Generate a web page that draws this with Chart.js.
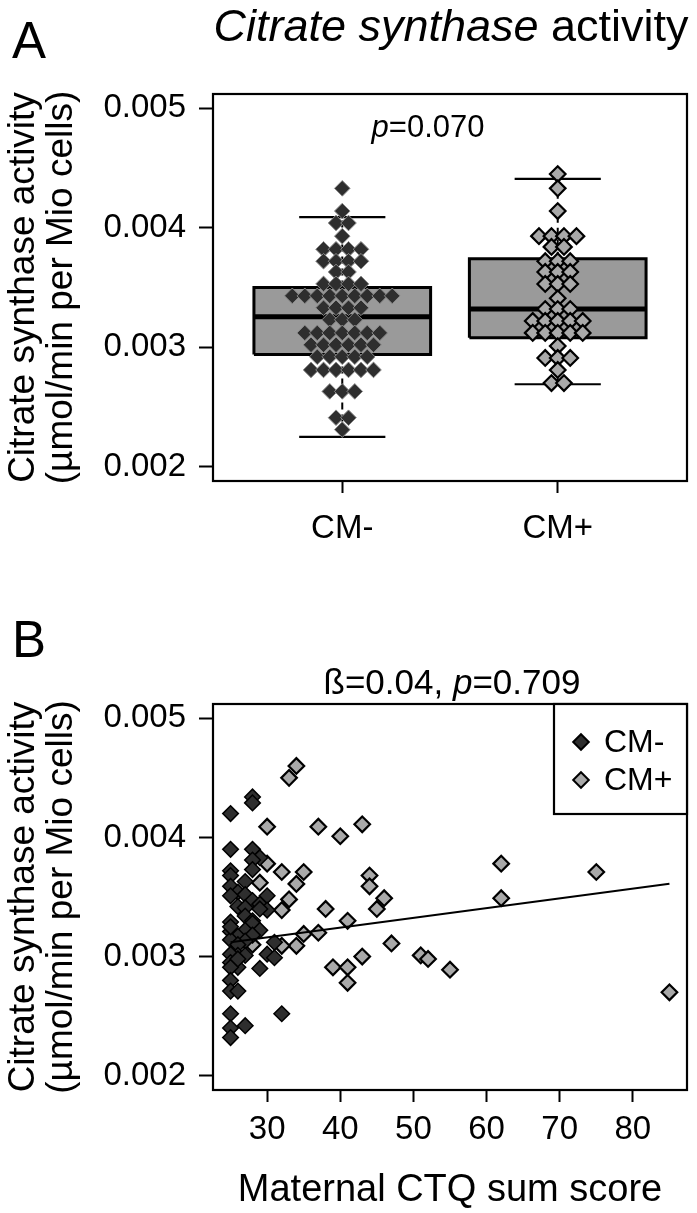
<!DOCTYPE html>
<html>
<head>
<meta charset="utf-8">
<script src="https://cdn.jsdelivr.net/npm/chart.js@4.4.1/dist/chart.umd.min.js"></script>
<style>
  html, body { margin: 0; padding: 0; background: #fff; }
  body { width: 697px; height: 1213px; position: relative; overflow: hidden;
         font-family: "Liberation Sans", Arial, sans-serif; color: #000; }
  .wrap { position: absolute; left: 0; width: 697px; }
  #wa { top: 0; height: 600px; }
  #wb { top: 600px; height: 613px; }
  canvas { display: block; }
  .lbl { position: absolute; white-space: nowrap; line-height: 1; transform: translate(-50%, -50%); }
</style>
</head>
<body>
<div class="wrap" id="wa"><canvas id="ca" width="697" height="600"></canvas></div>
<div class="wrap" id="wb"><canvas id="cb" width="697" height="613"></canvas></div>
<div class="lbl" style="left:29px; top:40px; font-size:51px;">A</div>
<div class="lbl" style="left:451px; top:25px; font-size:45px;"><i>Citrate synthase</i> activity</div>
<div class="lbl" style="left:428px; top:126px; font-size:31px;"><i>p</i>=0.070</div>
<div class="lbl" style="left:29px; top:639px; font-size:51px;">B</div>
<div class="lbl" style="left:452px; top:681px; font-size:35px;">ß=0.04, <i>p</i>=0.709</div>

<script>
// ---------------- data ----------------
const yTickValues = [0.002, 0.003, 0.004, 0.005];
const yAxisRange = [0.00188, 0.00512];

// Panel A: box plot by group
const groupLabels = ['CM-', 'CM+'];
const groupPositions = [1, 2];
const whiskerLow = [0.00225, 0.00269];
const quartile1 = [0.00294, 0.00308];
const medians = [0.003255, 0.00332];
const quartile3 = [0.00350, 0.00374];
const whiskerHigh = [0.00409, 0.00441];

// Panel A: beeswarm values (binned rows as drawn)
const swarmCMminus = [
  0.00433,
  0.00414,
  0.00404, 0.00404,
  0.00393,
  0.00382, 0.00382, 0.00382, 0.00382,
  0.00372, 0.00372, 0.00372, 0.00372,
  0.00363, 0.00363,
  0.00353, 0.00353, 0.00353, 0.00353,
  0.00343, 0.00343, 0.00343, 0.00343, 0.00343, 0.00343, 0.00343, 0.00343, 0.00343,
  0.00333, 0.00333, 0.00333, 0.00333,
  0.00323, 0.00323, 0.00323,
  0.00312, 0.00312, 0.00312, 0.00312, 0.00312, 0.00312, 0.00312,
  0.00302, 0.00302, 0.00302, 0.00302, 0.00302, 0.00302,
  0.00292, 0.00292, 0.00292, 0.00292, 0.00292,
  0.00281, 0.00281, 0.00281, 0.00281, 0.00281, 0.00281,
  0.00263, 0.00263, 0.00263,
  0.00241, 0.00241,
  0.00231
];
const swarmCMplus = [
  0.00445,
  0.00433,
  0.00414,
  0.00393, 0.00393, 0.00393, 0.00393,
  0.00384, 0.00384,
  0.00372, 0.00372, 0.00372,
  0.00363, 0.00363, 0.00363,
  0.00353, 0.00353, 0.00353,
  0.00341,
  0.00332, 0.00332, 0.00332,
  0.00322, 0.00322, 0.00322, 0.00322, 0.00322,
  0.00312, 0.00312, 0.00312, 0.00312, 0.00312,
  0.00301,
  0.00291, 0.00291, 0.00291,
  0.00281,
  0.00270, 0.00270
];

// Panel B: scatter (CTQ score vs. citrate synthase activity)
const ctqCMminus = [25, 28, 28, 25, 28, 29, 28, 28, 25, 25,
                    27, 25, 26, 25, 27, 30, 28, 29, 30, 26,
                    27, 29, 27, 28, 25, 28, 25, 27, 29, 26,
                    28, 25, 27, 31, 26, 26, 25, 30, 27, 31,
                    25, 26, 25, 29, 25, 25, 26, 25, 32, 27,
                    25, 25, 26, 25];
const csCMminus  = [0.00420, 0.00434, 0.00429, 0.00390, 0.00390, 0.00383, 0.00381, 0.00373, 0.00372, 0.00368,
                    0.00363, 0.00359, 0.00354, 0.00351, 0.00352, 0.00351, 0.00347, 0.00344, 0.00339, 0.00342,
                    0.00341, 0.00340, 0.00334, 0.00330, 0.00329, 0.00328, 0.00321, 0.00322, 0.00322, 0.00317,
                    0.00318, 0.00314, 0.00313, 0.00312, 0.00310, 0.00301, 0.00302, 0.00302, 0.00301, 0.00299,
                    0.00295, 0.00291, 0.00291, 0.00290, 0.00280, 0.00271, 0.00271, 0.00252, 0.00252, 0.00242,
                    0.00240, 0.00232, 0.00298, 0.00325];
const ctqCMplus = [34, 33, 30, 37, 40, 43, 30, 32, 35, 34,
                   29, 33, 32, 38, 35, 37, 41, 44, 44, 46,
                   45, 47, 51, 52, 55, 39, 41, 41, 43, 34,
                   62, 62, 75, 85, 32, 28];
const csCMplus  = [0.00460, 0.00450, 0.00409, 0.00409, 0.00401, 0.00411, 0.00378, 0.00371, 0.00371, 0.00361,
                   0.00362, 0.00348, 0.00339, 0.00340, 0.00319, 0.00320, 0.00330, 0.00368, 0.00359, 0.00349,
                   0.00340, 0.00311, 0.00301, 0.00298, 0.00289, 0.00291, 0.00291, 0.00278, 0.00300, 0.00309,
                   0.00378, 0.00349, 0.00371, 0.00270, 0.00309, 0.00310];
const xTickValuesB = [30, 40, 50, 60, 70, 80];
const xRangeB = [22.6, 87.4];
const fitIntercept = 0.002915;   // regression line
const fitSlope = 0.0000082;

// ---------------- styles ----------------
const FONT = '"Liberation Sans", Arial, Helvetica, sans-serif';
const DARK = '#2e2e2e';
const LIGHT = '#a9a9a9';
const BOXFILL = '#9a9a9a';
const halfBox = 0.41, halfStaple = 0.2, swarmStep = 0.058;

Chart.defaults.font.family = FONT;
Chart.defaults.color = '#000';

function swarmLayout(values, center) {
  const counts = {};
  values.forEach(v => { counts[v] = (counts[v] || 0) + 1; });
  const seen = {};
  return values.map(v => {
    const n = counts[v];
    const i = seen[v] = (seen[v] === undefined ? 0 : seen[v] + 1);
    return { x: center + (i - (n - 1) / 2) * swarmStep, y: v };
  });
}

const frameBox = {
  id: 'frameBox',
  afterDraw(chart) {
    const { ctx, chartArea: a } = chart;
    ctx.save();
    ctx.strokeStyle = '#000';
    ctx.lineWidth = 2.2;
    ctx.strokeRect(a.left, a.top, a.right - a.left, a.bottom - a.top);
    ctx.restore();
  }
};

function yAxisOptions() {
  return {
    type: 'linear',
    min: yAxisRange[0], max: yAxisRange[1],
    afterBuildTicks: s => { s.ticks = yTickValues.map(v => ({ value: v })); },
    afterFit: s => { s.width = 213; },
    ticks: { callback: v => Number(v).toFixed(3), font: { family: FONT, size: 33 }, color: '#000', padding: 13 },
    grid: { display: true, drawOnChartArea: false, drawTicks: true, tickLength: 14, tickWidth: 2, tickColor: '#000', color: '#000' },
    border: { display: false },
    title: { display: true, text: ['Citrate synthase activity', '(µmol/min per Mio cells)'],
             font: { family: FONT, size: 37, lineHeight: 1.02 }, color: '#000', padding: { top: 5, bottom: 0 } }
  };
}

// ---------------- Panel A ----------------
const dsA = [];
groupPositions.forEach((p, g) => {
  dsA.push({ type: 'line', data: [{ x: p - halfBox, y: quartile3[g] }, { x: p + halfBox, y: quartile3[g] }],
             borderWidth: 0, pointRadius: 0, fill: '+1', backgroundColor: BOXFILL, order: 6 });
  dsA.push({ type: 'line', data: [{ x: p - halfBox, y: quartile1[g] }, { x: p + halfBox, y: quartile1[g] }],
             borderWidth: 0, pointRadius: 0, fill: false, order: 6 });
  dsA.push({ type: 'line', data: [
               { x: p - halfBox, y: quartile1[g] }, { x: p + halfBox, y: quartile1[g] },
               { x: p + halfBox, y: quartile3[g] }, { x: p - halfBox, y: quartile3[g] },
               { x: p - halfBox, y: quartile1[g] }],
             borderColor: '#000', borderWidth: 3, pointRadius: 0, fill: false, order: 3 });
  dsA.push({ type: 'line', data: [{ x: p - halfBox, y: medians[g] }, { x: p + halfBox, y: medians[g] }],
             borderColor: '#000', borderWidth: 5, pointRadius: 0, fill: false, order: 3 });
  dsA.push({ type: 'line', data: [{ x: p, y: quartile3[g] }, { x: p, y: whiskerHigh[g] }],
             borderColor: '#000', borderWidth: 2, borderDash: [7, 5], pointRadius: 0, fill: false, order: 4 });
  dsA.push({ type: 'line', data: [{ x: p, y: quartile1[g] }, { x: p, y: whiskerLow[g] }],
             borderColor: '#000', borderWidth: 2, borderDash: [7, 5], pointRadius: 0, fill: false, order: 4 });
  dsA.push({ type: 'line', data: [{ x: p - halfStaple, y: whiskerHigh[g] }, { x: p + halfStaple, y: whiskerHigh[g] }],
             borderColor: '#000', borderWidth: 2.2, pointRadius: 0, fill: false, order: 4 });
  dsA.push({ type: 'line', data: [{ x: p - halfStaple, y: whiskerLow[g] }, { x: p + halfStaple, y: whiskerLow[g] }],
             borderColor: '#000', borderWidth: 2.2, pointRadius: 0, fill: false, order: 4 });
});
dsA.push({ type: 'scatter', label: 'CM-', data: swarmLayout(swarmCMminus, groupPositions[0]),
           pointStyle: 'rectRot', pointRadius: 7.8, backgroundColor: DARK, borderColor: '#8c8c8c', borderWidth: 1, order: 1 });
dsA.push({ type: 'scatter', label: 'CM+', data: swarmLayout(swarmCMplus, groupPositions[1]),
           pointStyle: 'rectRot', pointRadius: 7.8, backgroundColor: LIGHT, borderColor: '#000', borderWidth: 2.2, order: 1 });

new Chart(document.getElementById('ca'), {
  type: 'scatter',
  data: { datasets: dsA },
  plugins: [frameBox],
  options: {
    responsive: false, animation: false, events: [],
    layout: { padding: { left: 0, top: 94, right: 9, bottom: 0 } },
    plugins: { legend: { display: false }, tooltip: { enabled: false } },
    scales: {
      x: {
        type: 'linear', min: 0.4, max: 2.6,
        afterBuildTicks: s => { s.ticks = groupPositions.map(v => ({ value: v })); },
        afterFit: s => { s.height = 119; },
        ticks: { callback: (v, i) => groupLabels[i], font: { family: FONT, size: 33 }, color: '#000',
                 padding: 16, maxRotation: 0, minRotation: 0, autoSkip: false },
        grid: { display: true, drawOnChartArea: false, drawTicks: true, tickLength: 12, tickWidth: 2, tickColor: '#000', color: '#000' },
        border: { display: false }
      },
      y: yAxisOptions()
    }
  }
});

// ---------------- Panel B ----------------
const legendBox = {
  id: 'legendBox',
  afterDraw(chart) {
    const { ctx, chartArea: a } = chart;
    const w = 133, h = 110;
    const left = a.right - w, top = a.top;
    ctx.save();
    ctx.fillStyle = '#fff';
    ctx.fillRect(left, top, w, h);
    ctx.strokeStyle = '#000';
    ctx.lineWidth = 2.2;
    ctx.strokeRect(left, top, w, h);
    const items = [
      { text: 'CM-', fill: DARK, stroke: '#000' },
      { text: 'CM+', fill: LIGHT, stroke: '#000' }
    ];
    ctx.font = '32px ' + FONT;
    ctx.textBaseline = 'middle';
    ctx.textAlign = 'left';
    items.forEach((it, k) => {
      const cy = top + 38 + k * 38;
      const cx = left + 27;
      const r = 7.8;
      ctx.beginPath();
      ctx.moveTo(cx - r, cy); ctx.lineTo(cx, cy - r); ctx.lineTo(cx + r, cy); ctx.lineTo(cx, cy + r); ctx.closePath();
      ctx.fillStyle = it.fill; ctx.fill();
      ctx.lineWidth = 2; ctx.strokeStyle = it.stroke; ctx.stroke();
      ctx.fillStyle = '#000';
      ctx.fillText(it.text, left + 50, cy + 1);
    });
    ctx.restore();
  }
};

const allCtq = ctqCMminus.concat(ctqCMplus);
const fitX = [Math.min(...allCtq), Math.max(...allCtq)];

new Chart(document.getElementById('cb'), {
  type: 'scatter',
  data: {
    datasets: [
      { type: 'line', data: fitX.map(x => ({ x: x, y: fitIntercept + fitSlope * x })),
        borderColor: '#000', borderWidth: 2, pointRadius: 0, fill: false, order: 0 },
      { type: 'scatter', label: 'CM-', data: ctqCMminus.map((x, i) => ({ x: x, y: csCMminus[i] })),
        pointStyle: 'rectRot', pointRadius: 7.8, backgroundColor: DARK, borderColor: '#000', borderWidth: 1.5, order: 1 },
      { type: 'scatter', label: 'CM+', data: ctqCMplus.map((x, i) => ({ x: x, y: csCMplus[i] })),
        pointStyle: 'rectRot', pointRadius: 7.8, backgroundColor: LIGHT, borderColor: '#000', borderWidth: 2.2, order: 2 }
    ]
  },
  plugins: [frameBox, legendBox],
  options: {
    responsive: false, animation: false, events: [],
    layout: { padding: { left: 0, top: 104, right: 7, bottom: 0 } },
    plugins: { legend: { display: false }, tooltip: { enabled: false } },
    scales: {
      x: {
        type: 'linear', min: xRangeB[0], max: xRangeB[1],
        afterBuildTicks: s => { s.ticks = xTickValuesB.map(v => ({ value: v })); },
        afterFit: s => { s.height = 123; },
        ticks: { callback: v => String(v), font: { family: FONT, size: 33 }, color: '#000',
                 padding: 8, maxRotation: 0, minRotation: 0, autoSkip: false },
        grid: { display: true, drawOnChartArea: false, drawTicks: true, tickLength: 12, tickWidth: 2, tickColor: '#000', color: '#000' },
        border: { display: false },
        title: { display: true, text: 'Maternal CTQ sum score', font: { family: FONT, size: 38, lineHeight: 1.1 },
                 color: '#000', padding: { top: 0, bottom: 2 } }
      },
      y: yAxisOptions()
    }
  }
});
</script>
</body>
</html>
